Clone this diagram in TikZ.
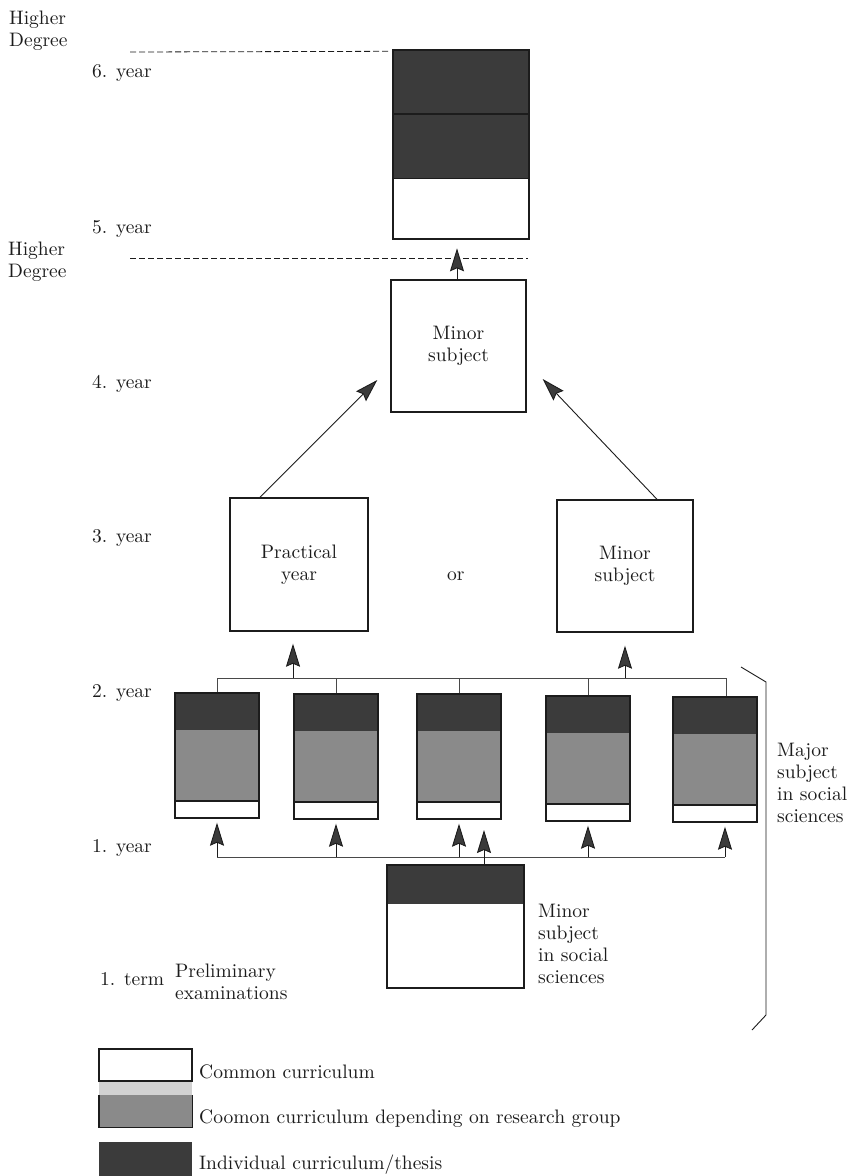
\documentclass[tikz,border=0pt]{standalone}
\usepackage{fontspec}
\setmainfont{lmroman10-regular.otf}
\usetikzlibrary{arrows.meta}
\definecolor{darkfill}{HTML}{3B3B3B}
\definecolor{midfill}{HTML}{8A8A8A}
\definecolor{ink}{HTML}{1C1C1C}
\definecolor{lightband}{HTML}{D2D2D2}
\begin{document}
\begin{tikzpicture}[x=1pt,y=-1pt,
  every node/.style={font=\fontsize{19.5}{22}\selectfont, text=ink},
  box/.style={draw=ink, line width=1.4pt, inner sep=0pt, align=center},
  lbl/.style={anchor=base west, inner sep=0pt},
  mlbl/.style={anchor=west, inner sep=0pt, align=left},
  wire/.style={draw=ink!80, line width=0.9pt},
  arr/.style={draw=ink, line width=0.9pt, -{Stealth[length=23pt,width=14pt,inset=3pt,fill=darkfill]}},
  guide/.style={draw=ink, line width=0.8pt, dash pattern=on 6pt off 3pt},
]
\useasboundingbox (0,0) rectangle (850,1176);
\fill[white] (0,0) rectangle (850,1176);

% ---- top box (5./6. year)
\fill[darkfill] (393,50) rectangle (529,178);
\draw[ink, line width=1.3pt] (393,114) -- (529,114);
\draw[ink, line width=0.8pt] (393,178) -- (529,178);
\node[box, minimum width=136pt, minimum height=189pt] (y56) at (461,144.5) {};

% ---- dashed guides
\coordinate (g1) at (130,52);
\coordinate (g2) at (130,258);
\draw[guide] (g1) -- ([xshift=-4pt,yshift=-2pt]y56.north west);
\draw[guide] (g2) -- (528,258);

% ---- 4. year minor subject
\node[box, minimum width=135pt, minimum height=132pt] (m4) at (458.5,346) {Minor\\subject};
\draw[arr] ([xshift=-1.5pt]m4.north) -- ++(0,-31);

% ---- 3. year
\node[box, minimum width=138pt, minimum height=133pt] (prac) at (299,564.5) {Practical\\year};
\node[box, minimum width=136pt, minimum height=132pt] (m3) at (625,566) {Minor\\subject};
\node[lbl] (or) at (447,580) {or};
\draw[arr] ([xshift=-39pt]prac.north) -- ([xshift=-13pt,yshift=-34pt]m4.west);
\draw[arr] ([xshift=32pt]m3.north) -- ([xshift=16pt,yshift=-33pt]m4.east);

% ---- 2. year columns
\foreach \n/\xl/\yt in {c1/175/693, c2/294/694, c3/417/694, c4/546/696, c5/673/697} {
  \fill[darkfill] (\xl,\yt) rectangle ++(84,37);
  \fill[midfill] (\xl,\yt+37) rectangle ++(84,71);
  \draw[ink, line width=1.2pt] (\xl,\yt+108) -- ++(84,0);
  \node[box, minimum width=84pt, minimum height=125pt] (\n) at (\xl+42,\yt+62.5) {};
}

% top bus
\coordinate (busT) at (0,678);
\draw[wire] (c1.north) -- (c1.north |- busT) -- ([xshift=11pt]c5.north |- busT) -- ([xshift=11pt]c5.north);
\foreach \n in {c2,c3,c4} \draw[wire] (\n.north) -- (\n.north |- busT);
\draw[arr, shorten >=12pt] ([xshift=-6pt]prac.south |- busT) -- ([xshift=-6pt]prac.south);
\draw[arr, shorten >=13pt] (m3.south |- busT) -- (m3.south);

% bottom bus
\coordinate (busB) at (0,857);
\draw[wire] (c1.south |- busB) -- ([xshift=10pt]c5.south |- busB);
\foreach \n in {c1,c2,c3,c4} \draw[arr, shorten >=4pt] (\n.south |- busB) -- (\n.south);
\draw[arr, shorten >=4pt] ([xshift=10pt]c5.south |- busB) -- ([xshift=10pt]c5.south);

% ---- 1. year minor subject in social sciences
\fill[darkfill] (387,865) rectangle (524,904);
\node[box, minimum width=137pt, minimum height=123pt] (msoc) at (455.5,926.5) {};
\draw[arr] ([xshift=28.5pt]msoc.north) -- ([xshift=28.5pt,yshift=27pt]msoc.north |- busB);
\node[mlbl] (msoclbl) at (538,943.75) {Minor\\subject\\in social\\sciences};

% ---- major subject bracket
\node[mlbl] (majlbl) at (777,783.25) {Major\\subject\\in social\\sciences};
\draw[ink, line width=0.9pt] (741,667) -- (766,682) -- (766,1015) -- (752,1030);

% ---- left labels
\node[mlbl] (hd1) at (9,30.5) {Higher\\Degree};
\node[lbl] (y6) at (92,77) {6. year};
\node[lbl] (y5) at (92,233) {5. year};
\node[mlbl] (hd2) at (8,261.5) {Higher\\Degree};
\node[lbl] (y4) at (92,388) {4. year};
\node[lbl] (y3) at (92,542) {3. year};
\node[lbl] (y2) at (92,697) {2. year};
\node[lbl] (y1) at (92,852) {1. year};
\node[lbl] (t1) at (100,985) {1. term};
\node[mlbl] (prelim) at (175,981.75) {Preliminary\\examinations};

% ---- legend
\fill[lightband] (99,1081) rectangle (192,1095);
\node[box, fill=white, minimum width=93pt, minimum height=32pt] (legA) at (145.5,1065) {};
\node[inner sep=0pt, fill=midfill, minimum width=93pt, minimum height=32pt] (legB) at (145.5,1111) {};
\draw[ink, line width=1.4pt] (legB.north west) -- (legB.south west) -- (legB.south east) -- (legB.north east);
\node[inner sep=0pt, fill=darkfill, minimum width=93pt, minimum height=34pt] (legC) at (145.5,1159) {};
\node[lbl] (legAt) at (199,1078) {Common curriculum};
\node[lbl] (legBt) at (199,1123) {Coomon curriculum depending on research group};
\node[lbl] (legCt) at (199,1169) {Individual curriculum/thesis};
\end{tikzpicture}
\end{document}
